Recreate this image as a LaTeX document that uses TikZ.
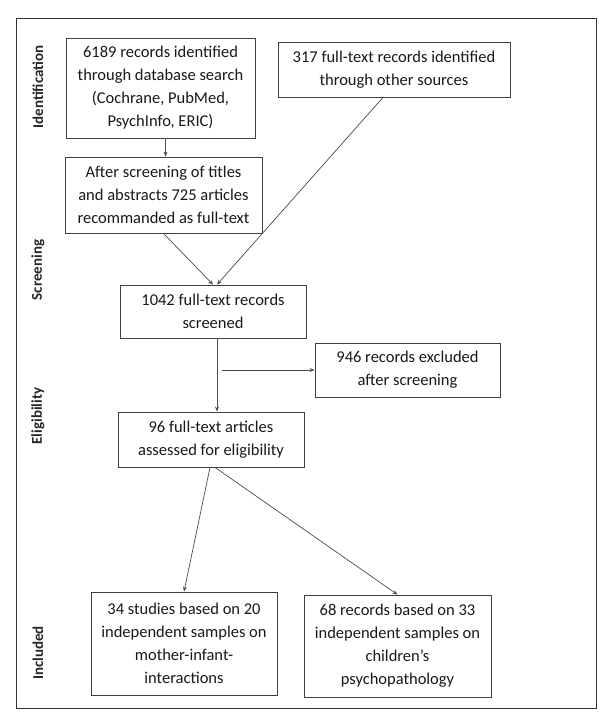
\documentclass[tikz,border=0pt]{standalone}
\usepackage{fontspec}
\setmainfont{Carlito}
\usetikzlibrary{arrows.meta}
\begin{document}
\begin{tikzpicture}[x=1pt,y=-1pt,
  box/.style={draw=black!75, line width=0.8pt, align=center, inner sep=2pt,
    font=\fontsize{16.5}{23}\selectfont, text=black!90},
  phase/.style={rotate=90, font=\bfseries\fontsize{15}{17}\selectfont, text=black!85},
  arr/.style={draw=black!70, line width=0.7pt, -{Stealth[length=5pt,width=4pt]}}]
\useasboundingbox (0,0) rectangle (599,713);
\fill[white] (0,0) rectangle (599,713);
\draw[black!80, line width=0.8pt] (16,18) rectangle (596,708);
% phase labels
\node[phase] (pid) at (38,87) {Identification};
\node[phase] (psc) at (38,270) {Screening};
\node[phase] (pel) at (38,416) {Eligibility};
\node[phase] (pin) at (38,653) {Included};
% boxes
\node[box, minimum width=189pt, minimum height=100pt] (b1) at (160.5,88)
  {6189 records identified\\through database search\\(Cochrane, PubMed,\\PsychInfo, ERIC)};
\node[box, minimum width=232pt, minimum height=55pt] (b2) at (394,69.5)
  {317 full-text records identified\\through other sources};
\node[box, minimum width=197pt, minimum height=76pt] (b3) at (163.5,195)
  {After screening of titles\\and abstracts 725 articles\\recommanded as full-text};
\node[box, minimum width=186pt, minimum height=53pt] (b4) at (213,311.5)
  {1042 full-text records\\screened};
\node[box, minimum width=185pt, minimum height=54pt] (b5) at (407.5,370)
  {946 records excluded\\after screening};
\node[box, minimum width=186pt, minimum height=55pt] (b6) at (211,439.5)
  {96 full-text articles\\assessed for eligibility};
\node[box, minimum width=186pt, minimum height=103pt] (b7) at (184,643.5)
  {34 studies based on 20\\independent samples on\\mother-infant-\\interactions};
\node[box, minimum width=187pt, minimum height=102pt] (b8) at (397.5,646)
  {68 records based on 33\\independent samples on\\children's\\psychopathology};
% connectors
\draw[arr] ([xshift=5pt]b1.south) -- ([xshift=2pt]b3.north);
\draw[arr] (b3.south) -- (b4.north);
\draw[arr] ([xshift=-11pt]b2.south) -- ([xshift=4pt]b4.north);
\draw[arr] ([xshift=4pt]b4.south) -- ([xshift=6pt]b6.north);
\coordinate (hx) at ([xshift=9pt]b4.south |- b5.west);
\draw[arr] (hx) -- (b5.west);
\draw[arr] ([xshift=-1pt]b6.south) -- (b7.north);
\draw[arr] ([xshift=4pt]b6.south) -- (b8.north);
\end{tikzpicture}
\end{document}
